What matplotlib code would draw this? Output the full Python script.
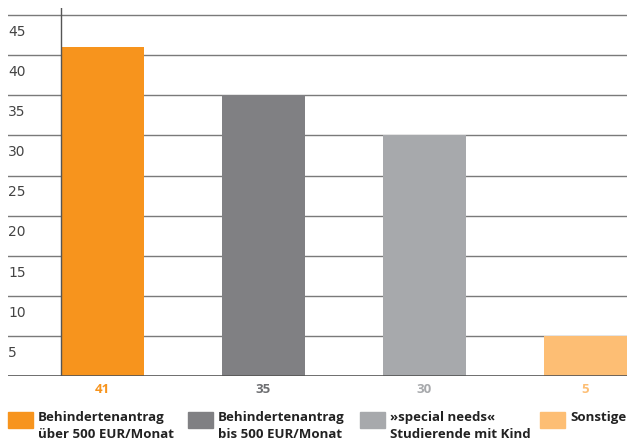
import matplotlib
matplotlib.use("Agg")
import matplotlib.pyplot as plt
from matplotlib.patches import Rectangle
from matplotlib.transforms import blended_transform_factory

# data
categories = ["Behindertenantrag\nüber 500 EUR/Monat",
              "Behindertenantrag\nbis 500 EUR/Monat",
              "»special needs«\nStudierende mit Kind",
              "Sonstige"]
values = [41, 35, 30, 5]
colors = ["#F7941D", "#808083", "#A7A9AC", "#FDBE74"]
label_colors = ["#F7941D", "#6D6E71", "#A7A9AC", "#FDBE74"]
yticks = [5, 10, 15, 20, 25, 30, 35, 40, 45]

W, H = 627, 447
fig = plt.figure(figsize=(W / 100, H / 100), dpi=100)
ax = fig.add_axes([8 / W, 71 / H, 619 / W, 368 / H])

xs = range(len(values))
bw = 0.52
ax.bar(xs, values, width=bw, color=colors, zorder=3)
ax.set_xlim(-0.587, 3.258)
ax.set_ylim(0, 45.9)
for s in ax.spines.values():
    s.set_visible(False)
ax.set_xticks([])
ax.set_yticks([])

for v in yticks:
    ax.axhline(v, color="#7a7a7a", lw=1.0, zorder=1)
ax.axhline(0, color="#555555", lw=1.2, zorder=4)
ax.axvline(-bw / 2, color="#555555", lw=1.0, zorder=4)

# y tick labels sit in the band just below each gridline
tr = blended_transform_factory(fig.transFigure, ax.transData)
for v in yticks:
    ax.text(8 / W, v - 2.1, str(v), transform=tr, ha="left", va="center",
            fontsize=10, color="#444444", family="DejaVu Sans")

# value labels under bars
for x, v, c in zip(xs, values, label_colors):
    ax.text(x, -1.65, str(v), ha="center", va="center", fontsize=9.5,
            color=c, fontweight="bold", family="Open Sans", clip_on=False)

# legend
leg_x = [8, 188, 360, 540]
for lx, lab, c in zip(leg_x, categories, colors):
    fig.patches.append(Rectangle((lx / W, (H - 428) / H), 25 / W, 16 / H,
                                 transform=fig.transFigure, color=c))
    fig.text((lx + 30) / W, (H - 411) / H, lab, ha="left", va="top",
             fontsize=9.5, fontweight="bold", color="#222222",
             family="Open Sans", linespacing=1.45)

fig.savefig("out.png", dpi=100)
